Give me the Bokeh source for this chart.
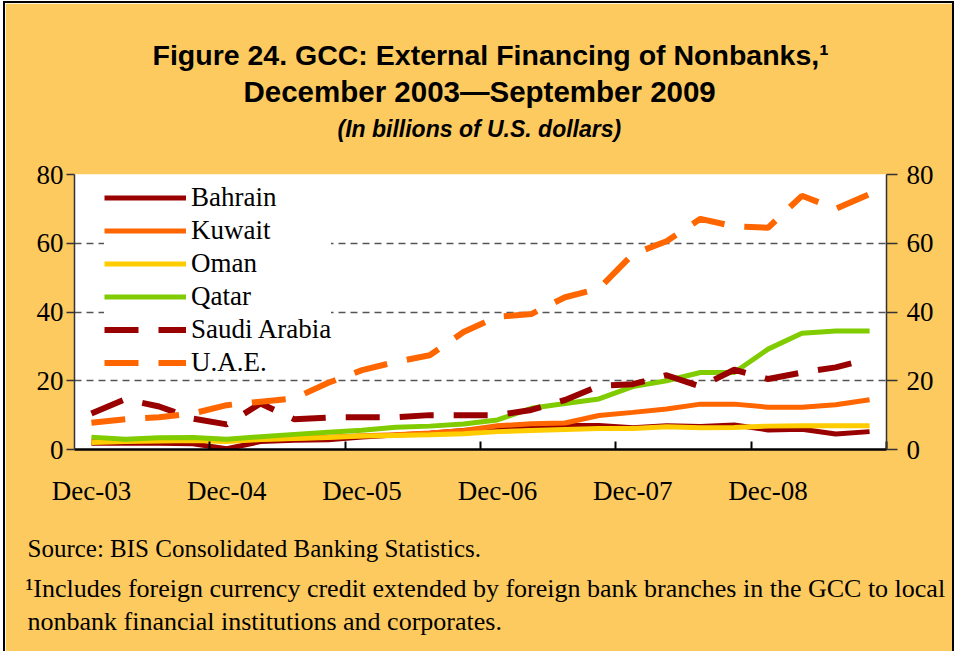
from bokeh.plotting import figure
from bokeh.models import Range1d, LinearAxis, FixedTicker, Title, Legend, LegendItem
from bokeh.embed import file_html
from bokeh.resources import INLINE

quarters = ["Dec-03", "Mar-04", "Jun-04", "Sep-04", "Dec-04", "Mar-05", "Jun-05", "Sep-05",
            "Dec-05", "Mar-06", "Jun-06", "Sep-06", "Dec-06", "Mar-07", "Jun-07", "Sep-07",
            "Dec-07", "Mar-08", "Jun-08", "Sep-08", "Dec-08", "Mar-09", "Jun-09", "Sep-09"]
x_tick_labels = ["Dec-03", "Dec-04", "Dec-05", "Dec-06", "Dec-07", "Dec-08"]
y_ticks = [0, 20, 40, 60, 80]

bahrain = [1.8, 1.8, 1.8, 1.7, 0.2, 2.3, 2.7, 2.8, 3.6, 4.2, 4.7, 5.5,
           6.3, 6.8, 7.0, 7.0, 6.3, 6.9, 6.7, 7.1, 5.7, 5.9, 4.5, 5.2]
kuwait = [2.5, 2.6, 2.7, 2.8, 2.6, 3.0, 3.3, 3.6, 4.0, 4.3, 4.8, 5.5,
          6.9, 7.5, 7.7, 9.9, 10.8, 11.8, 13.2, 13.2, 12.3, 12.3, 13.0, 14.5]
oman = [2.0, 2.3, 2.5, 2.6, 2.3, 2.9, 3.2, 3.5, 3.9, 4.1, 4.3, 4.6,
        5.2, 5.5, 5.8, 6.1, 6.1, 6.6, 6.3, 6.4, 6.8, 6.9, 6.9, 6.9]
qatar = [3.6, 3.0, 3.4, 3.5, 3.0, 3.7, 4.4, 5.0, 5.6, 6.5, 6.8, 7.4,
         8.6, 12.0, 13.4, 14.7, 18.3, 20.0, 22.4, 22.4, 29.2, 33.8, 34.5, 34.5]
saudi = [10.5, 14.6, 12.5, 9.0, 7.3, 13.4, 8.8, 9.3, 9.4, 9.4, 10.0, 10.0,
         10.0, 11.5, 14.4, 18.5, 19.0, 21.6, 18.3, 23.2, 20.5, 22.4, 23.9, 26.4]
uae = [7.8, 8.8, 9.4, 10.5, 12.9, 13.9, 14.9, 19.4, 23.1, 25.5, 27.4, 34.2,
       38.6, 39.4, 44.3, 46.8, 56.8, 60.6, 67.1, 64.9, 64.5, 73.8, 70.0, 74.3]

series_names = ["Bahrain", "Kuwait", "Oman", "Qatar", "Saudi Arabia", "U.A.E."]
series_values = [bahrain, kuwait, oman, qatar, saudi, uae]
series_colors = ["#990000", "#FF6600", "#FFCC00", "#80CC00", "#990000", "#FF6600"]
series_dashed = [False, False, False, False, True, True]

BG = "#FDCA5F"
SERIF = "Liberation Serif"
SANS = "Liberation Sans"

OX, OY = 5, 3           # figure offset on the page
W, H = 952 - OX, 651 - OY
FL, FR, FT, FB = 74 - OX, 886 - OX, 174 - OY, 449 - OY  # frame edges in figure px

n = len(quarters)
xs = list(range(n))

p = figure(width=W, height=H, output_backend="svg", toolbar_location=None,
           x_range=Range1d(-0.5, n - 0.5), y_range=Range1d(0, 80),
           min_border_left=FL, min_border_right=W - FR,
           min_border_top=FT, min_border_bottom=H - FB,
           background_fill_color="white", border_fill_color=BG,
           outline_line_color=None)
p.styles = {"outline": "2px solid black", "margin-left": f"{OX}px", "margin-top": f"{OY}px"}

# grid
p.xgrid.visible = False
p.ygrid.ticker = FixedTicker(ticks=[20, 40, 60, 80])
p.ygrid.grid_line_color = "#555555"
p.ygrid.grid_line_width = 1.3
p.ygrid.grid_line_dash = "7 5"

# bottom axis
xax = p.xaxis[0]
xax.ticker = FixedTicker(ticks=[quarters.index(t) for t in x_tick_labels],
                         minor_ticks=[i + 3.5 for i in range(0, n, 4)])
xax.major_label_overrides = {quarters.index(t): t for t in x_tick_labels}
xax.major_tick_in = 0
xax.major_tick_out = 0
xax.minor_tick_in = 8
xax.minor_tick_out = 0
xax.minor_tick_line_color = "black"
xax.minor_tick_line_width = 2
xax.axis_line_color = "black"
xax.axis_line_width = 2.5
xax.major_label_standoff = 26
xax.major_label_text_font = SERIF
xax.major_label_text_font_size = "27px"
xax.major_label_text_color = "black"

def style_y(ax):
    ax.ticker = FixedTicker(ticks=y_ticks)
    ax.axis_line_color = "#333333"
    ax.axis_line_width = 1.5
    ax.major_tick_line_color = "#333333"
    ax.major_tick_line_width = 1.5
    ax.major_tick_in = 0
    ax.major_tick_out = 8
    ax.minor_tick_line_color = None
    ax.major_label_standoff = 3
    ax.major_label_text_font = SERIF
    ax.major_label_text_font_size = "27px"
    ax.major_label_text_color = "black"

style_y(p.yaxis[0])
rax = LinearAxis()
style_y(rax)
rax.major_tick_out = 11
rax.major_label_standoff = 9
p.add_layout(rax, "right")

items = []
for name, vals, col, dashed in zip(series_names, series_values, series_colors, series_dashed):
    r = p.line(xs, vals, line_color=col, line_width=6 if dashed else 5,
               line_dash="34 20" if dashed else "solid")
    items.append(LegendItem(label=name, renderers=[r]))

legend = Legend(items=items, location=(30, 71.5), padding=5, margin=0, spacing=2,
                label_height=31, glyph_height=31, glyph_width=82, label_standoff=5,
                label_text_font=SERIF, label_text_font_size="27px", label_text_color="black",
                background_fill_color="white", background_fill_alpha=1.0,
                border_line_color=None)
p.add_layout(legend)

def title_line(text, font, size, style, standoff, sx):
    return Title(text=text, text_font=font, text_font_size=size, text_font_style=style,
                 text_color="black", align="left", offset=(sx - OX) - FL, standoff=standoff)

# above: first added is nearest to the plot (a thin spacer first)
p.add_layout(title_line(" ", SANS, "1px", "normal", 30, 480), "above")
p.add_layout(title_line("(In billions of U.S. dollars)", SANS, "23px", "bold italic", 0, 337), "above")
p.add_layout(title_line("December 2003\u2014September 2009", SANS, "29.5px", "bold", 11, 243), "above")
p.add_layout(title_line("Figure 24. GCC: External Financing of Nonbanks,\u00b9", SANS, "28.5px", "bold", -7, 152), "above")

# below: first added is nearest to the axis
p.add_layout(title_line("Source: BIS Consolidated Banking Statistics.", SERIF, "25px", "normal", 49, 27), "below")
p.add_layout(title_line("\u00b9Includes foreign currency credit extended by foreign bank branches in the GCC to local",
                        SERIF, "26px", "normal", -29, 25), "below")
p.add_layout(title_line("nonbank financial institutions and corporates.", SERIF, "26px", "normal", 32, 27), "below")

open("out.html", "w").write(file_html(p, INLINE))
